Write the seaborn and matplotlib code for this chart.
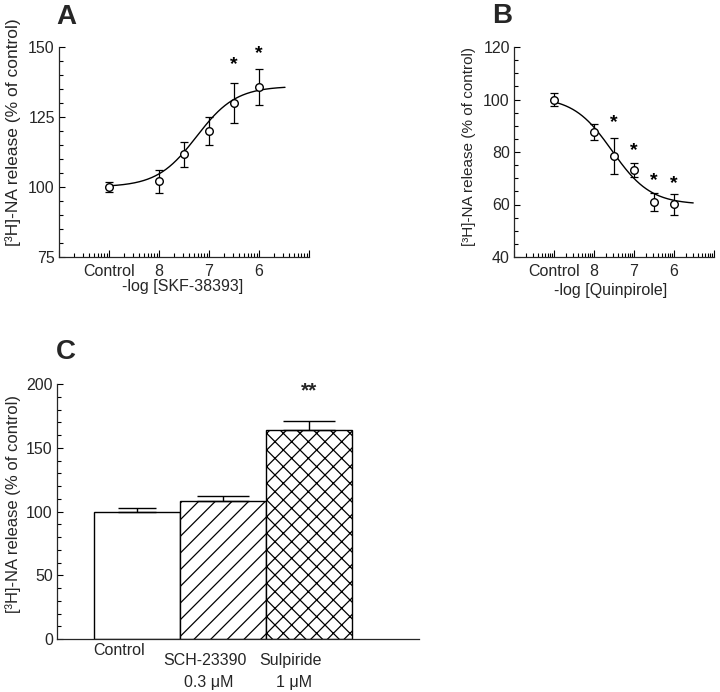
import numpy as np
import pandas as pd
import matplotlib
matplotlib.use("Agg")
import matplotlib.pyplot as plt
import matplotlib.transforms as mtransforms
from matplotlib.ticker import MultipleLocator, LogLocator, NullFormatter
import seaborn as sns

# ---------------- data ----------------
# Panel A: SKF-38393
a_conc = [1e-9, 1e-8, 10 ** -7.5, 1e-7, 10 ** -6.5, 1e-6]
a_mean = [100.0, 102.0, 111.7, 120.0, 130.1, 135.8]
a_sem = [1.8, 4.2, 4.4, 4.9, 7.1, 6.4]
a_star_conc = [10 ** -6.5, 1e-6]
a_star_y = [143.6, 147.8]
a_fit_low, a_fit_high, a_fit_logec50, a_fit_hill = 100.0, 136.0, -7.25, 1.1
a_curve_logrange = (-9.0, -5.48)

# Panel B: Quinpirole
b_conc = [1e-9, 1e-8, 10 ** -7.5, 1e-7, 10 ** -6.5, 1e-6]
b_mean = [100.0, 87.6, 78.4, 73.3, 61.0, 60.1]
b_sem = [2.3, 3.0, 6.9, 2.7, 3.3, 4.0]
b_star_conc = [10 ** -7.5, 1e-7, 10 ** -6.5, 1e-6]
b_star_y = [91.3, 80.7, 69.0, 67.8]
b_fit_low, b_fit_high, b_fit_logec50, b_fit_hill = 101.0, 60.0, -7.55, 0.9
b_curve_logrange = (-9.0, -5.52)

dose_ticks = [1e-10, 1e-9, 1e-8, 1e-7, 1e-6, 1e-5]
dose_ticklabels = ["", "Control", "8", "7", "6", ""]

# Panel C
c_groups = ["Control", "SCH-23390", "Sulpiride"]
c_sublabels = ["", "0.3 μM", "1 μM"]
c_mean = [100.0, 108.5, 164.2]
c_sem = [2.7, 3.4, 7.0]
c_hatch = ["", "//", "xx"]
c_star_text = ["", "", "**"]
c_star_y = [None, None, 194.8]

ylabel_text = "[³H]-NA release (% of control)"

# ---------------- style ----------------
sns.set_theme(style="ticks")
plt.rcParams["font.family"] = ["Liberation Sans", "DejaVu Sans"]
plt.rcParams["hatch.linewidth"] = 0.9
plt.rcParams["axes.linewidth"] = 0.9

W, H = 720, 692
fig = plt.figure(figsize=(W / 100, H / 100), dpi=100)
fig.patch.set_facecolor("white")


def px_axes(left, top, right, bottom):
    return fig.add_axes([left / W, 1 - bottom / H, (right - left) / W, (bottom - top) / H])


def hill_curve(logrange, low, high, logec50, hill):
    xs = np.logspace(logrange[0], logrange[1], 400)
    ys = low + (high - low) / (1 + 10 ** (hill * (logec50 - np.log10(xs))))
    return xs, ys


def dose_panel(ax, conc, mean, sem, fit, logrange, star_x, star_y, ylim, ymajor,
               yminor, xlabel, ylabel_size, ylabel_pos, xlabel_pos):
    ax.set_xscale("log")
    xs, ys = hill_curve(logrange, *fit)
    sns.lineplot(x=xs, y=ys, ax=ax, color="black", linewidth=1.0, sort=False)
    ax.errorbar(conc, mean, yerr=sem, fmt="none", ecolor="black", elinewidth=0.9,
                capsize=2.6, capthick=0.9, zorder=3)
    sns.scatterplot(x=conc, y=mean, ax=ax, marker="o", s=30, facecolor="white",
                    edgecolor="black", linewidth=1.0, zorder=5)
    for sx, sy in zip(star_x, star_y):
        ax.text(sx, sy, "*", ha="center", va="center", fontsize=14,
                fontweight="bold", color="black")
    ax.set_xlim(1e-10, 1e-5)
    ax.set_ylim(*ylim)
    ax.set_xticks(dose_ticks)
    ax.set_xticklabels(dose_ticklabels)
    ax.xaxis.set_minor_locator(LogLocator(base=10, subs=np.arange(2, 10), numticks=20))
    ax.xaxis.set_minor_formatter(NullFormatter())
    ax.yaxis.set_major_locator(MultipleLocator(ymajor))
    ax.yaxis.set_minor_locator(MultipleLocator(yminor))
    ax.tick_params(axis="both", which="both", direction="in", color="black", width=0.8)
    ax.tick_params(axis="x", which="major", length=5, pad=5, labelsize=11.5)
    ax.tick_params(axis="x", which="minor", length=3)
    ax.tick_params(axis="y", which="major", length=4, pad=3, labelsize=11.5)
    ax.tick_params(axis="y", which="minor", length=3)
    sns.despine(ax=ax)
    ax.set_xlabel(xlabel, fontsize=11.5, va="top")
    ax.xaxis.set_label_coords(*xlabel_pos)
    ax.set_ylabel(ylabel_text, fontsize=ylabel_size)
    ax.yaxis.set_label_coords(*ylabel_pos)


# Panel A
axA = px_axes(59, 47, 309, 257)
dose_panel(axA, a_conc, a_mean, a_sem,
           (a_fit_low, a_fit_high, a_fit_logec50, a_fit_hill), a_curve_logrange,
           a_star_conc, a_star_y, (75, 150), 25, 5, "-log [SKF-38393]", 12.5,
           (-0.152, 0.595), (0.496, -0.105))

# Panel B
axB = px_axes(514, 47, 714, 257)
dose_panel(axB, b_conc, b_mean, b_sem,
           (b_fit_low, b_fit_high, b_fit_logec50, b_fit_hill), b_curve_logrange,
           b_star_conc, b_star_y, (40, 120), 20, 5, "-log [Quinpirole]", 11.0,
           (-0.19, 0.524), (0.485, -0.124))

# Panel C
axC = px_axes(57, 384, 419, 639)
df_c = pd.DataFrame({"group": c_groups, "value": c_mean})
sns.barplot(data=df_c, x="group", y="value", ax=axC, color="white",
            edgecolor="black", linewidth=1.0, width=1.0, errorbar=None, saturation=1)
for patch, h in zip(axC.patches, c_hatch):
    patch.set_facecolor("white")
    patch.set_edgecolor("black")
    patch.set_hatch(h)
cap_sizes = [13.5, 18.5, 18.5]
for i, (m, e) in enumerate(zip(c_mean, c_sem)):
    axC.errorbar([i], [m], yerr=[[0], [e]], fmt="none", ecolor="black",
                 elinewidth=1.0, capsize=cap_sizes[i], capthick=1.0, zorder=1)
for i, (t, y) in enumerate(zip(c_star_text, c_star_y)):
    if t:
        axC.text(i, y, t, ha="center", va="center", fontsize=15, fontweight="bold")
axC.set_xlim(-0.93, 3.28)
axC.set_ylim(0, 200)
axC.yaxis.set_major_locator(MultipleLocator(50))
axC.yaxis.set_minor_locator(MultipleLocator(10))
axC.set_xticks([])
axC.set_xlabel("")
axC.tick_params(axis="y", which="both", direction="in", color="black", width=0.8)
axC.tick_params(axis="y", which="major", length=4, pad=3, labelsize=11.5)
axC.tick_params(axis="y", which="minor", length=3)
sns.despine(ax=axC)
axC.set_ylabel(ylabel_text, fontsize=12)
axC.yaxis.set_label_coords(-0.1, 0.53)

trans = mtransforms.blended_transform_factory(axC.transData, axC.transAxes)
label_y_top = [-0.047, -0.086, -0.086]
for i, (g, s) in enumerate(zip(c_groups, c_sublabels)):
    axC.text(i - 0.21, label_y_top[i], g, transform=trans, ha="center", va="center",
             fontsize=11.5)
    if s:
        axC.text(i - 0.17, -0.169, s, transform=trans, ha="center", va="center",
                 fontsize=11.5)

# panel letters
for letter, x, y in [("A", 56, 17), ("B", 492, 16), ("C", 56, 352)]:
    fig.text(x / W, 1 - y / H, letter, ha="left", va="center", fontsize=20,
             fontweight="bold")

fig.savefig("out.png", dpi=100, facecolor="white")
